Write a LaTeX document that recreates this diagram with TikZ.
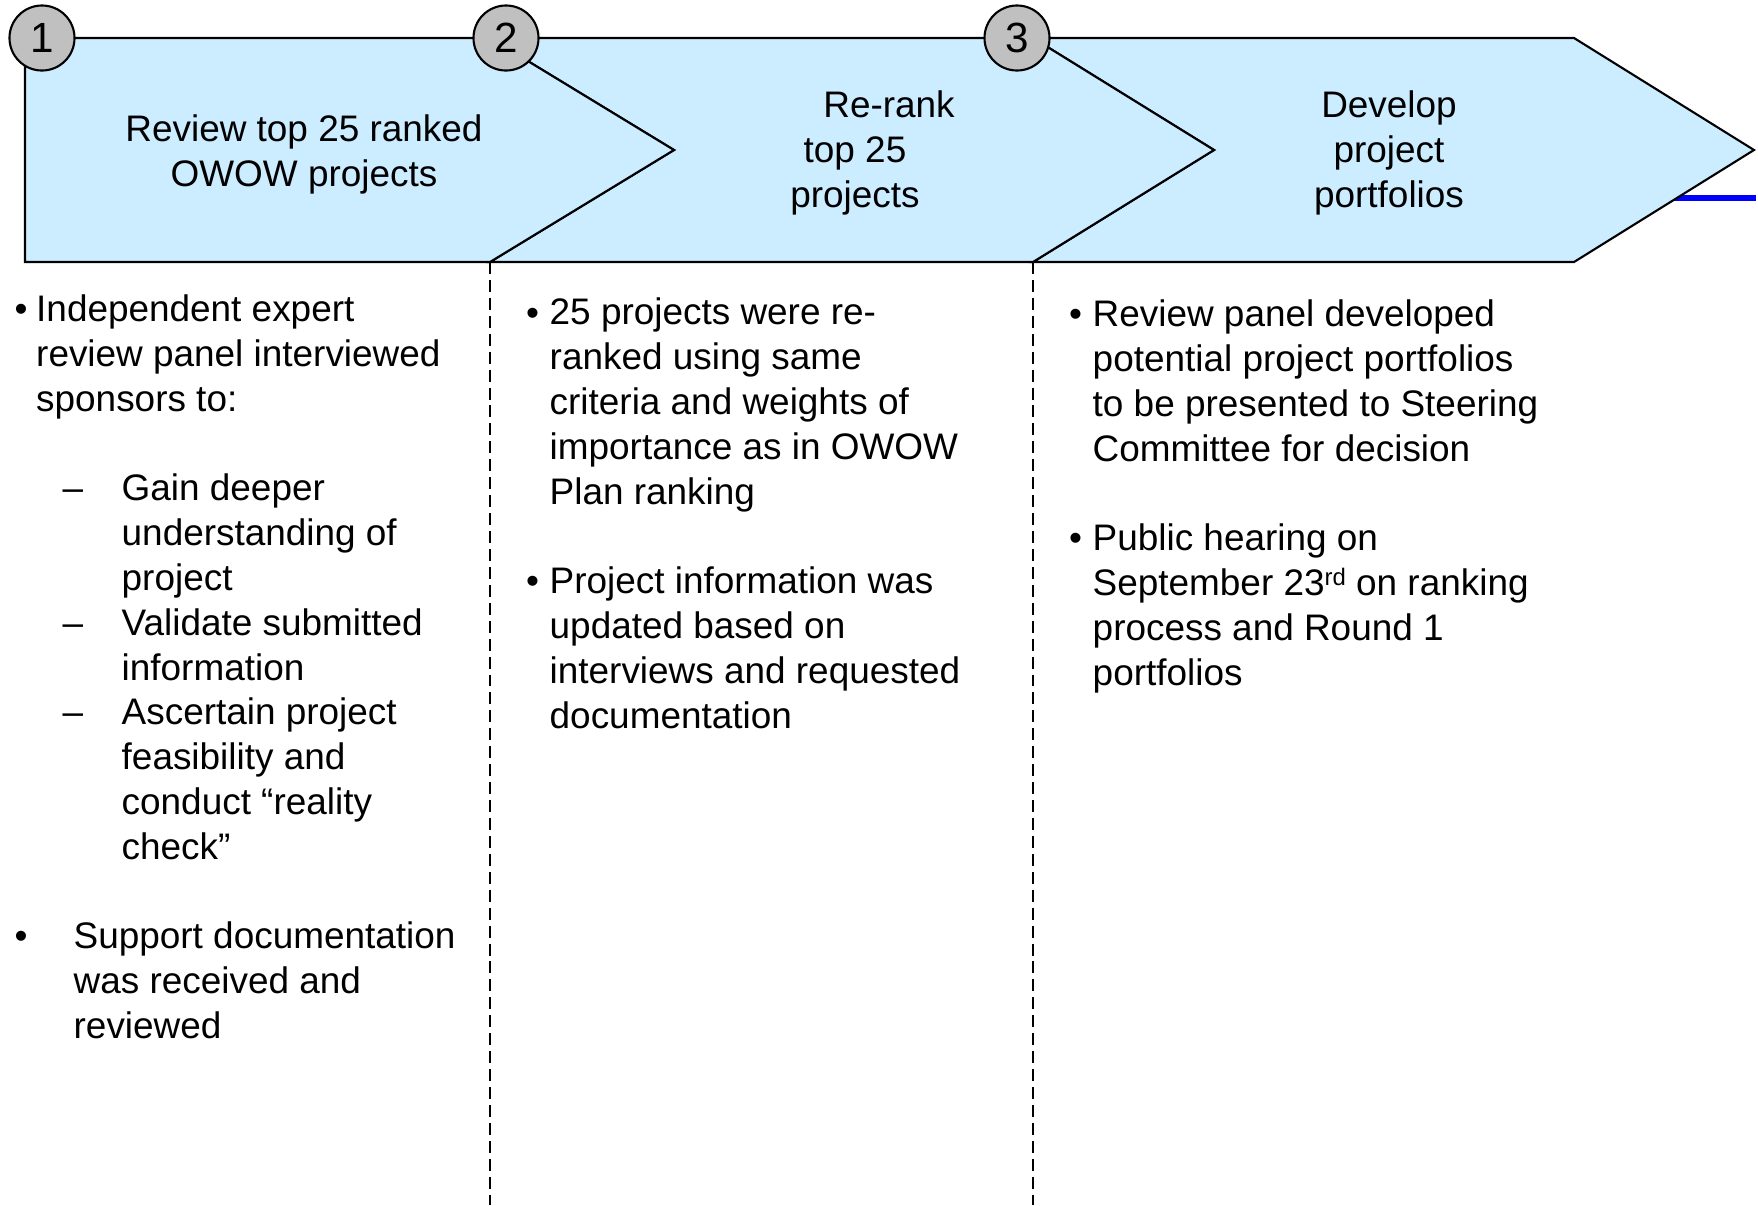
\documentclass[tikz,border=0pt]{standalone}
\usepackage{fontspec}
\setmainfont{Liberation Sans}
\usepackage{xcolor}
\usetikzlibrary{shapes,arrows,positioning,calc}

\definecolor{chevblue}{RGB}{204,236,255}
\definecolor{numgray}{RGB}{192,192,192}

\begin{document}
\begin{tikzpicture}[x=0.01cm,y=-0.01cm,
    chev/.style={draw=black,fill=chevblue,line width=0.6pt,line join=miter},
    num/.style={draw=black,fill=numgray,circle,line width=0.6pt,minimum size=0.65cm,inner sep=0pt,font=\fontsize{12}{14}\selectfont},
    head/.style={align=center,anchor=base,inner sep=0pt,font=\fontsize{10.5}{12.75}\selectfont},
    body/.style={align=left,anchor=base west,inner sep=0pt,font=\fontsize{10.5}{12.75}\selectfont},
    divider/.style={dash pattern=on 3.4pt off 1.7pt,line width=0.6pt}]
    \useasboundingbox (0,0) rectangle (1758,1205);

    % blue mark behind the last chevron
    \draw[blue,line width=1.7pt] (1600,198) -- (1756,198);

    % chevrons
    \draw[chev] (1033,38) -- (1574,38) -- (1754,150) -- (1574,262) -- (1033,262) -- (1214,150) -- cycle;
    \draw[chev] (490,38) -- (1033,38) -- (1214,150) -- (1033,262) -- (490,262) -- (674,150) -- cycle;
    \draw[chev] (25,38) -- (490,38) -- (674,150) -- (490,262) -- (25,262) -- cycle;

    \node[num] (n1) at (42,38) {1};
    \node[num] (n2) at (506,38) {2};
    \node[num] (n3) at (1017,38) {3};

    % multi-line nodes sit on the baseline of their last line
    \node[head] (review) at (304,186) {Review top 25 ranked\\OWOW projects};
    \node[head] (rerank) at (855,207.6) {\hspace*{0.68cm}Re-rank\\top 25\\projects};
    \node[head] (develop) at (1389,207.6) {Develop\\project\\portfolios};

    % column dividers
    \coordinate (d1top) at (490,262);
    \coordinate (d1bot) at (490,1205);
    \coordinate (d2top) at (1033,262);
    \coordinate (d2bot) at (1033,1205);
    \draw[divider] (d1top) -- (d1bot);
    \draw[divider] (d2top) -- (d2bot);

    % column 1
    \node[body] (b1a) at (14,321.7) {•};
    \node[body] (t1a) at (35.5,411.3) {Independent expert\\review panel interviewed\\sponsors to:};
    \node[body] (s1a) at (62,500.9) {–};
    \node[body] (u1a) at (121,590.5) {Gain deeper\\understanding of\\project};
    \node[body] (s1b) at (62,635.3) {–};
    \node[body] (u1b) at (121,680.1) {Validate submitted\\information};
    \node[body] (s1c) at (62,724.9) {–};
    \node[body] (u1c) at (121,859.3) {Ascertain project\\feasibility and\\conduct “reality\\check”};
    \node[body] (b1b) at (14,948.9) {•};
    \node[body] (t1b) at (73,1038.5) {Support documentation\\was received and\\reviewed};

    % column 2
    \node[body] (b2a) at (525.5,325) {•};
    \node[body] (t2a) at (549,504.2) {25 projects were re-\\ranked using same\\criteria and weights of\\importance as in OWOW\\Plan ranking};
    \node[body] (b2b) at (525.5,593.8) {•};
    \node[body] (t2b) at (549,728.2) {Project information was\\updated based on\\interviews and requested\\documentation};

    % column 3
    \node[body] (b3a) at (1068.5,326.7) {•};
    \node[body] (t3a) at (1092,461.1) {Review panel developed\\potential project portfolios\\to be presented to Steering\\Committee for decision};
    \node[body] (b3b) at (1068.5,550.7) {•};
    \node[body] (t3b) at (1092,685.1) {Public hearing on\\September 23\raisebox{2.7pt}{\fontsize{6.8}{8}\selectfont rd} on ranking\\process and Round 1\\portfolios};
\end{tikzpicture}
\end{document}
